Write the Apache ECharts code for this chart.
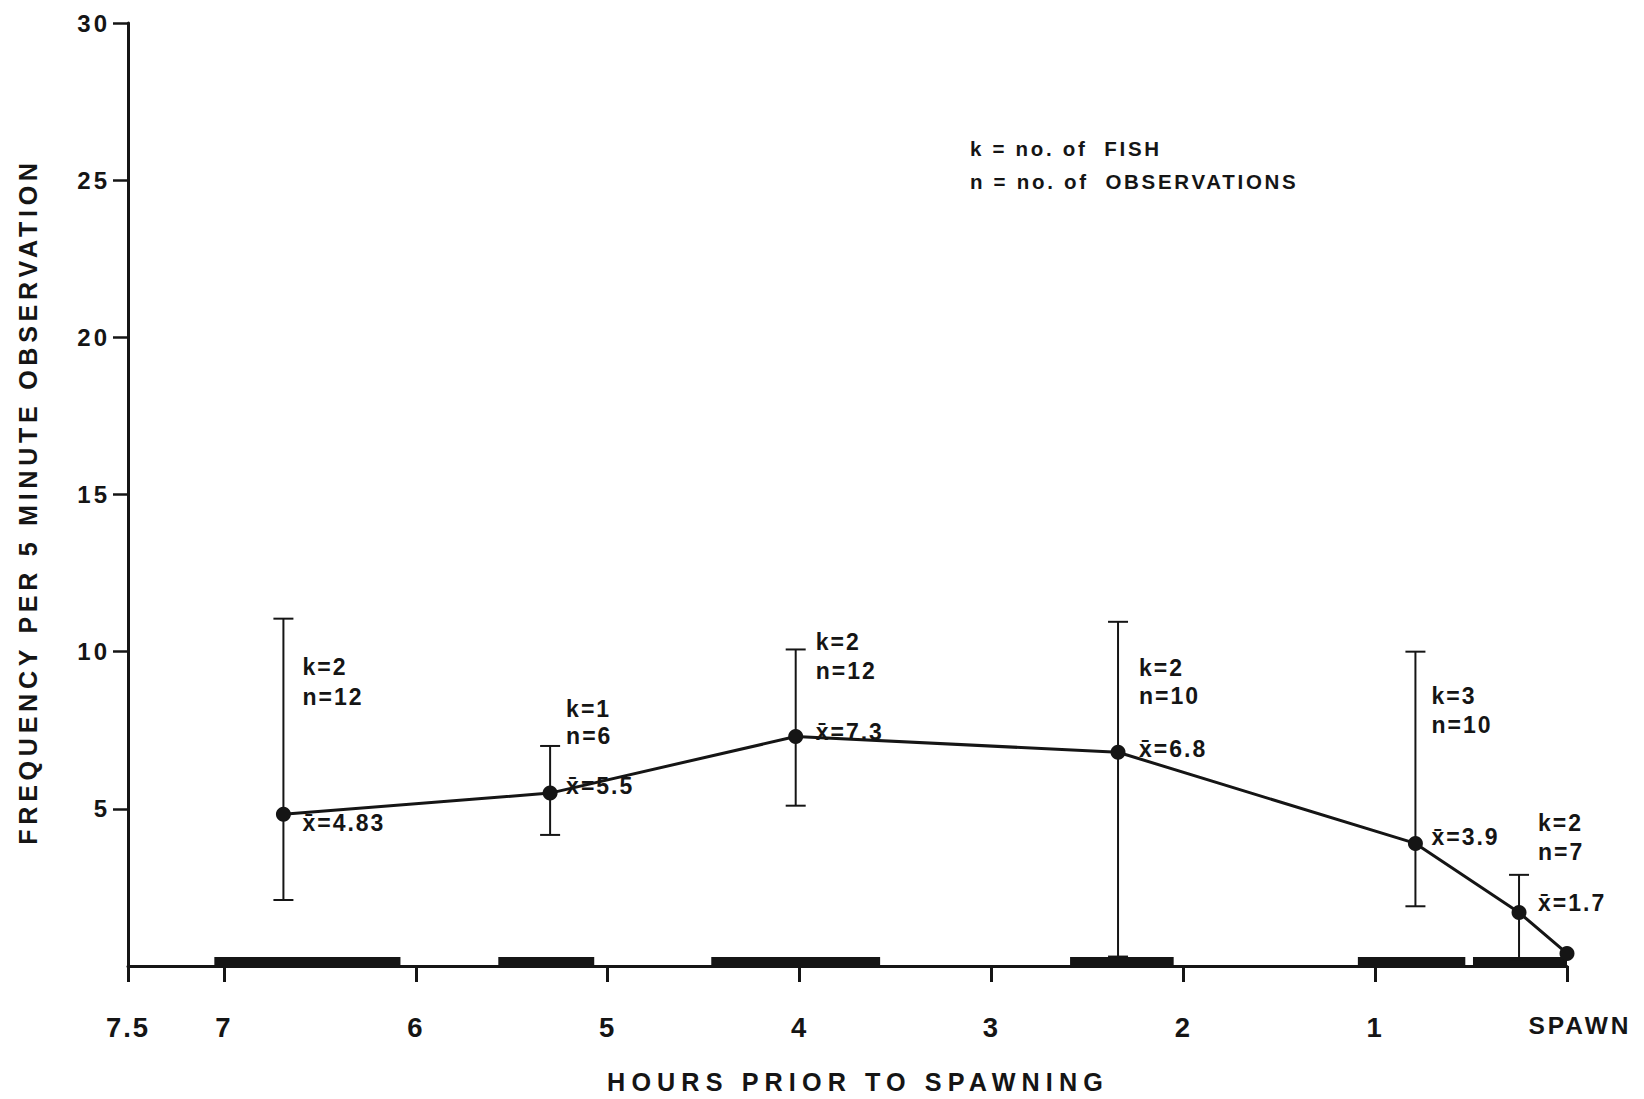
<!DOCTYPE html>
<html><head><meta charset="utf-8">
<script src="https://cdn.jsdelivr.net/npm/echarts@6/dist/echarts.min.js"></script>
<style>
html,body{margin:0;padding:0;background:#fff;}
#chart{width:1644px;height:1099px;}
#chart text[style*="25.1px"]{letter-spacing:4.7px;}
#chart text[style*="25.2px"]{letter-spacing:6.1px;}
#chart text[style*="27.5px"]{letter-spacing:2px;}
#chart text[style*="24px"]{letter-spacing:3px;}
#chart text[style*="23px"]{letter-spacing:2px;}
#chart text[style*="20.5px"]{letter-spacing:2.7px;}
#chart text[style*="24.5px"]{letter-spacing:3px;}
</style></head><body><div id="chart"></div>
<script>
// ---- data ----
const hoursPrior = [6.69, 5.30, 4.02, 2.34, 0.79, 0.25, 0.0];
const meanFreq   = [4.83, 5.5, 7.3, 6.8, 3.9, 1.7, 0.4];
const errLow     = [2.1, 4.17, 5.1, 0.3, 1.9, 0.2];
const errHigh    = [11.05, 7.0, 10.07, 10.95, 10.0, 2.9];
const fishK      = [2, 1, 2, 2, 3, 2];
const obsN       = [12, 6, 12, 10, 10, 7];
const bandStart  = [7.05, 5.57, 4.46, 2.59, 1.09, 0.49];
const bandEnd    = [6.08, 5.07, 3.58, 2.05, 0.53, 0.0];
const yTickValues = [5, 10, 15, 20, 25, 30];
const xSpecialLabels = {0: 'SPAWN', 7.5: '7.5'};
const legendLines = ['k = no. of  FISH', 'n = no. of  OBSERVATIONS'];

// ---- label layout (pixel offsets from each point) ----
const labelOffsets = [
  {dx: 19, kdy: -147, ndy: -117, mdy: 9},
  {dx: 16, kdy: -84,  ndy: -57,  mdy: -7},
  {dx: 20, kdy: -95,  ndy: -66,  mdy: -5},
  {dx: 21, kdy: -84,  ndy: -56,  mdy: -3},
  {dx: 16, kdy: -147, ndy: -118, mdy: -6},
  {dx: 19, kdy: -90,  ndy: -61,  mdy: -10}
];

const FONT = '"Liberation Sans", Arial, sans-serif';
const INK = '#151515';

const chart = echarts.init(document.getElementById('chart'), null, {renderer: 'svg'});

const lineData = hoursPrior.map((h, i) => [h, meanFreq[i]]);
const errData = errLow.map((lo, i) => [hoursPrior[i], lo, errHigh[i]]);
const bandData = bandStart.map((s, i) => [s, bandEnd[i]]);
const annData = fishK.map((k, i) => [hoursPrior[i], meanFreq[i], i]);

const option = {
  backgroundColor: '#ffffff',
  animation: false,
  grid: {left: 128, right: 77, top: 23, bottom: 132, containLabel: false},
  xAxis: {
    type: 'value', inverse: true, min: 0, max: 7.5, interval: 1,
    name: 'HOURS PRIOR TO SPAWNING', nameLocation: 'middle', nameGap: 103,
    nameTextStyle: {fontFamily: FONT, fontWeight: 'bold', fontSize: 25.2, color: INK, padding: [0, 0, 0, 21]},
    axisLine: {show: true, onZero: false, lineStyle: {color: INK, width: 3}},
    axisTick: {show: true, length: 16, lineStyle: {color: INK, width: 3}},
    splitLine: {show: false},
    axisLabel: {
      show: true, margin: 47, fontFamily: FONT, fontWeight: 'bold', fontSize: 27.5, color: INK,
      showMinLabel: true, showMaxLabel: true, hideOverlap: false,
      formatter: v => (v in xSpecialLabels) ? (v === 0 ? '{s|' + xSpecialLabels[v] + '}' : xSpecialLabels[v]) : String(v),
      rich: {s: {fontFamily: FONT, fontWeight: 'bold', fontSize: 24.5, color: INK, padding: [0, 0, 0, 26]}}
    }
  },
  yAxis: {
    type: 'value', min: 0, max: 30, interval: 5, position: 'left',
    name: 'FREQUENCY PER 5 MINUTE OBSERVATION', nameLocation: 'middle', nameGap: 88,
    nameTextStyle: {fontFamily: FONT, fontWeight: 'bold', fontSize: 25.1, color: INK, padding: [0, 14, 0, 0]},
    axisLine: {show: true, onZero: false, lineStyle: {color: INK, width: 3}},
    axisTick: {show: true, length: 15, customValues: yTickValues, lineStyle: {color: INK, width: 2.5}},
    splitLine: {show: false},
    axisLabel: {
      margin: 18, fontFamily: FONT, fontWeight: 'bold', fontSize: 24, color: INK,
      customValues: yTickValues,
      formatter: v => String(v)
    }
  },
  graphic: legendLines.map((t, i) => ({
    type: 'text', left: 970, top: 138 + i * 33,
    style: {text: t, font: 'bold 20.5px ' + FONT, fill: INK}
  })),
  series: [
    {
      type: 'custom', name: 'bands', coordinateSystem: 'cartesian2d',
      data: bandData, z: 2,
      renderItem: (params, api) => {
        const a = api.coord([api.value(0), 0]);
        const b = api.coord([api.value(1), 0]);
        const x0 = Math.min(a[0], b[0]), w = Math.abs(b[0] - a[0]);
        return {type: 'rect', shape: {x: x0, y: a[1] - 9, width: w, height: 10},
                style: {fill: INK}};
      }
    },
    {
      type: 'custom', name: 'errorbars', coordinateSystem: 'cartesian2d',
      data: errData, z: 3,
      renderItem: (params, api) => {
        const lo = api.coord([api.value(0), api.value(1)]);
        const hi = api.coord([api.value(0), api.value(2)]);
        const cap = 10;
        const st = {stroke: INK, lineWidth: 2, fill: null};
        return {type: 'group', children: [
          {type: 'line', shape: {x1: lo[0], y1: lo[1], x2: hi[0], y2: hi[1]}, style: st},
          {type: 'line', shape: {x1: hi[0] - cap, y1: hi[1], x2: hi[0] + cap, y2: hi[1]}, style: st},
          {type: 'line', shape: {x1: lo[0] - cap, y1: lo[1], x2: lo[0] + cap, y2: lo[1]}, style: st}
        ]};
      }
    },
    {
      type: 'line', name: 'mean', data: lineData, z: 4,
      symbol: 'circle', symbolSize: 15,
      itemStyle: {color: INK},
      lineStyle: {color: INK, width: 3}
    },
    {
      type: 'custom', name: 'annotations', coordinateSystem: 'cartesian2d',
      data: annData, z: 5,
      renderItem: (params, api) => {
        const i = api.value(2);
        const p = api.coord([api.value(0), api.value(1)]);
        const o = labelOffsets[i];
        const f = 'bold 23px ' + FONT;
        const txt = (t, dy) => ({type: 'text', x: p[0] + o.dx, y: p[1] + dy,
          style: {text: t, font: f, fill: INK, align: 'left', verticalAlign: 'middle'}});
        return {type: 'group', children: [
          txt('k=' + fishK[i], o.kdy),
          txt('n=' + obsN[i], o.ndy),
          txt('x\u0304=' + meanFreq[i], o.mdy)
        ]};
      }
    }
  ]
};
chart.setOption(option);
</script></body></html>
